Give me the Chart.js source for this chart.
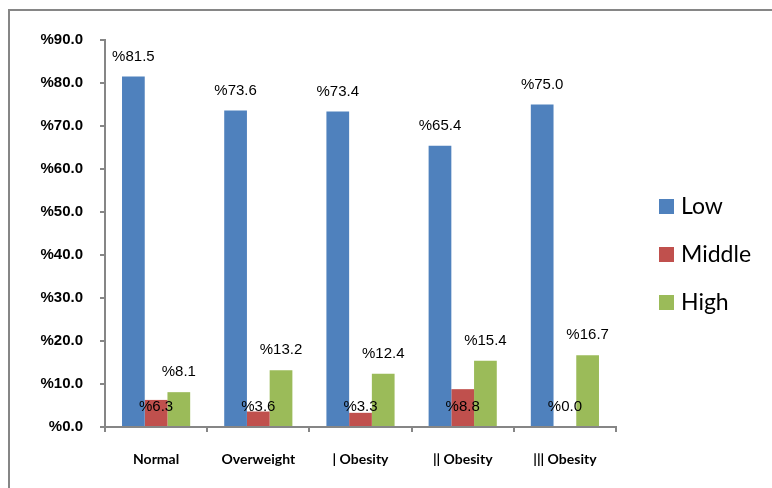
<!DOCTYPE html>
<html>
<head>
<meta charset="utf-8">
<script src="https://cdn.jsdelivr.net/npm/chart.js@4.4.1/dist/chart.umd.min.js"></script>
<style>
  html, body { margin: 0; padding: 0; background: #fff; }
  #wrap { width: 772px; height: 488px; position: relative; }
</style>
</head>
<body>
<div id="wrap"><canvas id="c" width="772" height="488"></canvas></div>
<script>
// Weight groups along the x axis
const categories = ['Normal', 'Overweight', '| Obesity', '|| Obesity', '||| Obesity'];

// Share of each level per weight group (percent)
const lowValues    = [81.5, 73.6, 73.4, 65.4, 75.0];
const middleValues = [6.3, 3.6, 3.3, 8.8, 0.0];
const highValues   = [8.1, 13.2, 12.4, 15.4, 16.7];

const seriesNames = ['Low', 'Middle', 'High'];
const seriesColors = ['#4F81BD', '#C0504D', '#9BBB59'];

const axisGray = '#868686';

// Outer frame around the figure
const framePlugin = {
  id: 'frame',
  beforeDraw(chart) {
    const ctx = chart.ctx;
    ctx.save();
    ctx.fillStyle = '#fff';
    ctx.fillRect(0, 0, chart.width, chart.height);
    ctx.strokeStyle = axisGray;
    ctx.lineWidth = 2;
    ctx.beginPath();
    ctx.moveTo(9, chart.height + 5);
    ctx.lineTo(9, 10);
    ctx.lineTo(chart.width + 5, 10);
    ctx.stroke();
    ctx.restore();
  }
};

// Value labels: "%x.x" above bars; the middle series sits near the base
const valueLabelPlugin = {
  id: 'valueLabels',
  afterDatasetsDraw(chart) {
    const ctx = chart.ctx;
    const yScale = chart.scales.y;
    const zeroY = yScale.getPixelForValue(0);
    ctx.save();
    ctx.font = '15px "Liberation Sans", Arial, sans-serif';
    ctx.fillStyle = '#000';
    ctx.textAlign = 'center';
    ctx.textBaseline = 'middle';
    chart.data.datasets.forEach((ds, di) => {
      const meta = chart.getDatasetMeta(di);
      meta.data.forEach((bar, i) => {
        const v = ds.data[i];
        const txt = '%' + v.toFixed(1);
        const y = di === 1 ? zeroY - 20 : bar.y - 20;
        ctx.fillText(txt, bar.x, y);
      });
    });
    ctx.restore();
  }
};

// Legend on the right side
const sideLegendPlugin = {
  id: 'sideLegend',
  afterDraw(chart) {
    const ctx = chart.ctx;
    ctx.save();
    ctx.font = '23px Lato, "Open Sans", sans-serif';
    ctx.textBaseline = 'middle';
    ctx.textAlign = 'left';
    chart.data.datasets.forEach((ds, i) => {
      const cy = 206 + i * 48;
      ctx.fillStyle = ds.backgroundColor;
      ctx.fillRect(659, cy - 7, 15, 15);
      ctx.fillStyle = '#000';
      ctx.fillText(ds.label, 681, cy + 1);
    });
    ctx.restore();
  }
};

const datasets = [lowValues, middleValues, highValues].map((vals, i) => ({
  label: seriesNames[i],
  data: vals,
  backgroundColor: seriesColors[i],
  borderWidth: 0,
  categoryPercentage: 0.667,
  barPercentage: 1.0
}));

new Chart(document.getElementById('c'), {
  type: 'bar',
  data: { labels: categories, datasets },
  options: {
    responsive: false,
    animation: false,
    layout: { padding: { top: 40, left: 0, right: 156, bottom: 0 } },
    plugins: {
      legend: { display: false },
      tooltip: { enabled: false }
    },
    scales: {
      x: {
        offset: true,
        grid: {
          display: true,
          offset: true,
          drawOnChartArea: false,
          drawTicks: true,
          tickLength: 5,
          color: axisGray,
          lineWidth: 2
        },
        border: { display: true, color: axisGray, width: 2 },
        ticks: {
          color: '#000',
          padding: 19,
          maxRotation: 0,
          font: { family: 'Lato, "Open Sans", sans-serif', size: 14, weight: 'bold' }
        },
        afterFit(scale) { scale.height = 61; }
      },
      y: {
        min: 0,
        max: 90,
        grid: {
          display: true,
          drawOnChartArea: false,
          drawTicks: true,
          tickLength: 5,
          color: axisGray,
          lineWidth: 2
        },
        border: { display: true, color: axisGray, width: 2 },
        ticks: {
          stepSize: 10,
          padding: 17,
          color: '#000',
          font: { family: '"Liberation Sans", Arial, sans-serif', size: 15, weight: 'bold' },
          callback: (v) => '%' + Number(v).toFixed(1)
        },
        afterFit(scale) { scale.width = 105; }
      }
    }
  },
  plugins: [framePlugin, valueLabelPlugin, sideLegendPlugin]
});
</script>
</body>
</html>
